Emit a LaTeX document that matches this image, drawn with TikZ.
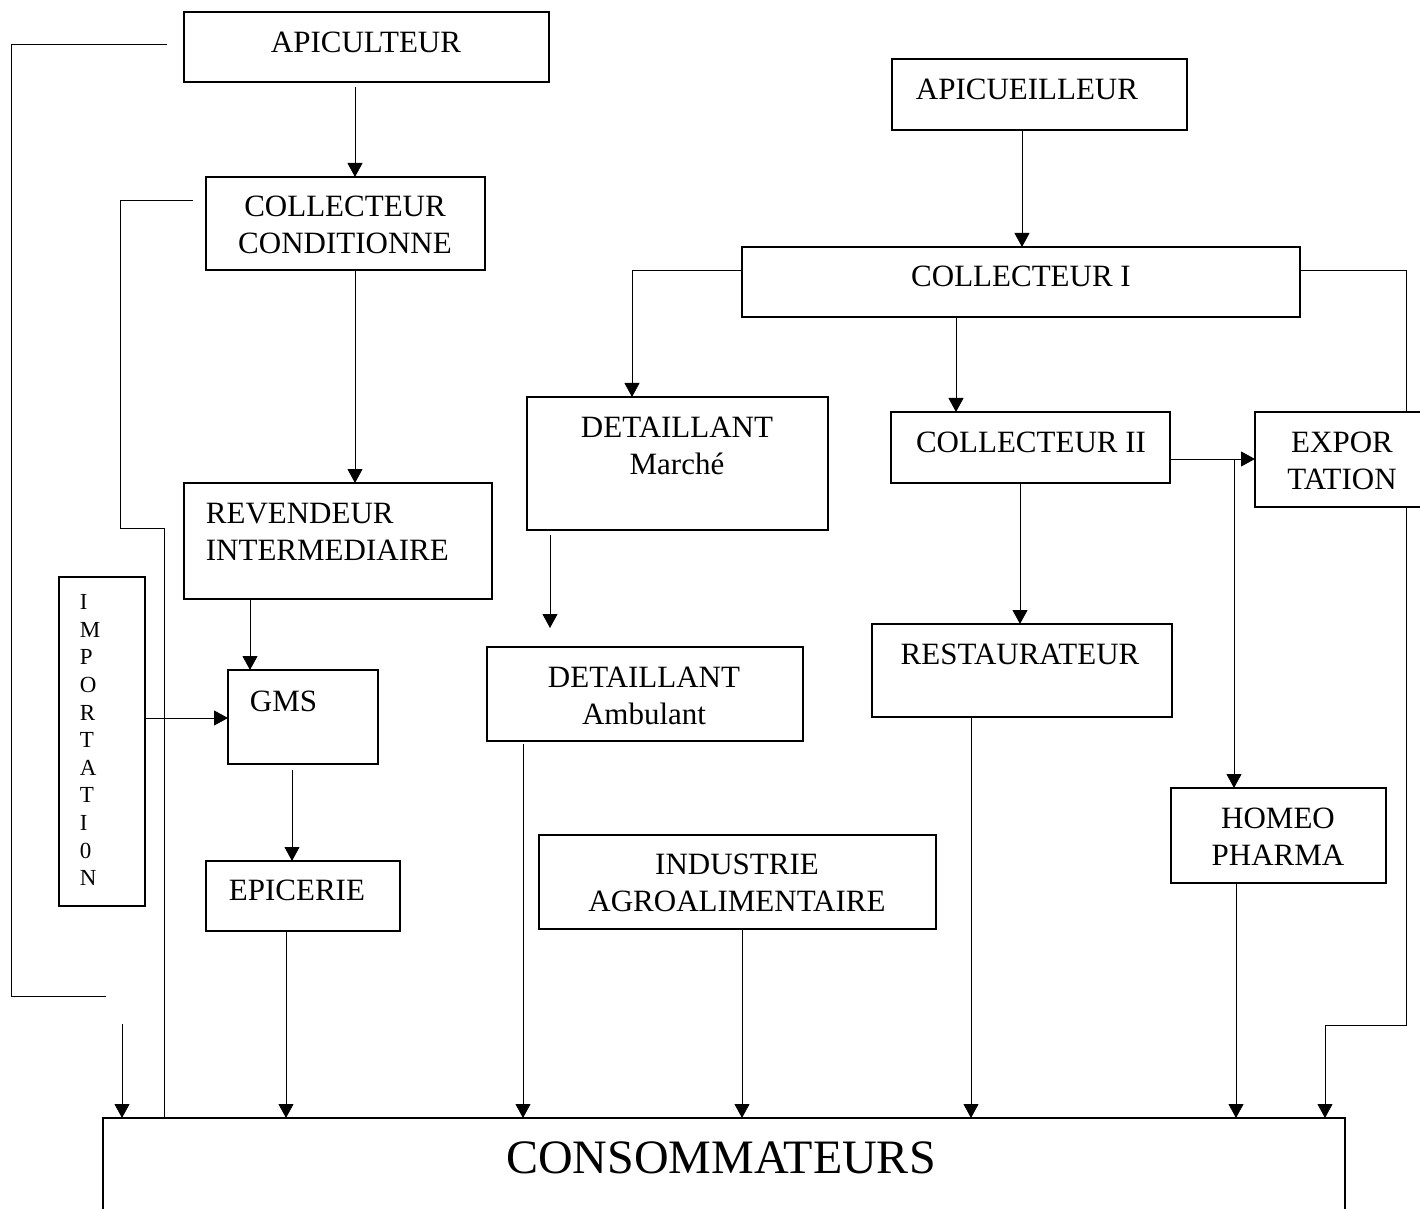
\documentclass[tikz,border=0pt]{standalone}
\usepackage{fontspec}
\setmainfont{Liberation Serif}
\usetikzlibrary{arrows.meta,backgrounds}
\newcommand\bxnode[5]{\node[bx, minimum width={(#4-#2)*0.5pt}, minimum height={(#5-#3)*0.5pt}] (#1) at ({(#2+#4)/2},{(#3+#5)/2}) {};}
\begin{document}
\begin{tikzpicture}[x=0.5pt,y=-0.5pt, line width=0.9pt,
  bx/.style={draw, fill=white, inner sep=0pt, outer sep=0pt},
  lbl/.style={inner sep=0pt, font=\fontsize{15.5pt}{18.5pt}\selectfont},
  arr/.style={-{Triangle[length=7pt,width=7.5pt]}}]
\useasboundingbox (0,0) rectangle (1420,1209);
\clip (0,0) rectangle (1420,1209);

% boxes
\bxnode{apic}{184}{12}{549}{82}
\bxnode{ccond}{206}{177}{485}{270}
\bxnode{rev}{184}{483}{492}{599}
\bxnode{imp}{59}{577}{145}{906}
\bxnode{gms}{228}{670}{378}{764}
\bxnode{epic}{206}{861}{400}{931}
\bxnode{detm}{527}{397}{828}{530}
\bxnode{deta}{487}{647}{803}{741}
\bxnode{indus}{539}{835}{936}{929}
\bxnode{apicu}{892}{59}{1187}{130}
\bxnode{coll1}{742}{247}{1300}{317}
\bxnode{coll2}{891}{412}{1170}{483}
\bxnode{export}{1255}{412}{1430}{507}
\bxnode{resto}{872}{624}{1172}{717}
\bxnode{homeo}{1171}{788}{1386}{883}
\bxnode{cons}{103}{1118}{1345}{1260}

% texts
\node[lbl, anchor=base] (apic-t) at (366,53) {APICULTEUR};
\node[lbl, anchor=north, align=center] (ccond-t) at (345,195.5) {COLLECTEUR\\CONDITIONNE};
\node[lbl, anchor=north west, align=left] (rev-t) at (205,502.5) {REVENDEUR\\INTERMEDIAIRE};
\node[anchor=north west, align=left, inner sep=0pt, font=\fontsize{11.5pt}{13.8pt}\selectfont] (imp-t) at (79,593.8) {I\\M\\P\\O\\R\\T\\A\\T\\I\\0\\N};
\node[lbl, anchor=base west] (gms-t) at (249,711) {GMS};
\node[lbl, anchor=base west] (epic-t) at (228,900) {EPICERIE};
\node[lbl, anchor=north, align=center] (detm-t) at (677,416.5) {DETAILLANT\\Marché};
\node[lbl, anchor=north, align=center] (deta-t) at (644,666.5) {DETAILLANT\\Ambulant};
\node[lbl, anchor=north, align=center] (indus-t) at (737,853.5) {INDUSTRIE\\AGROALIMENTAIRE};
\node[lbl, anchor=base west] (apicu-t) at (915,100) {APICUEILLEUR};
\node[lbl, anchor=base] (coll1-t) at (1021,287) {COLLECTEUR I};
\node[lbl, anchor=base] (coll2-t) at (1031,452) {COLLECTEUR II};
\node[lbl, anchor=north, align=center] (export-t) at (1342,431.5) {EXPOR\\TATION};
\node[lbl, anchor=base] (resto-t) at (1020,664) {RESTAURATEUR};
\node[lbl, anchor=north, align=center] (homeo-t) at (1278,807.5) {HOMEO\\PHARMA};
\node[inner sep=0pt, anchor=base, font=\fontsize{24pt}{28pt}\selectfont] (cons-t) at (721,1173) {CONSOMMATEURS};

% free ends and branch points
\coordinate (apicEnd) at (106,996);
\coordinate (consIn1) at (122,1024);
\coordinate (detTip) at (550,628);
\coordinate (branch) at (1234,459);

\begin{scope}[on background layer]
\draw[arr] (apic.south -| 355,0) ++(0,5) -- (ccond.north -| 355,0);
\draw (apic.west |- 0,44) ++(-17,0) -- (11,44) |- (apicEnd);
\draw[arr] (consIn1) -- (cons.north -| consIn1);
\draw (ccond.west |- 0,200) ++(-13,0) -- (120,200) -- (120,528) -| (cons.north -| 164,0);
\draw[arr] (ccond.south -| 355,0) -- (rev.north -| 355,0);
\draw[arr] (rev.south -| 250,0) -- (gms.north -| 250,0);
\draw[arr] (imp.east |- 0,718) ++(-3,0) -- (gms.west |- 0,718);
\draw[arr] (gms.south -| 292,0) ++(0,6) -- (epic.north -| 292,0);
\draw[arr] (epic.south -| 286,0) -- (cons.north -| 286,0);
\draw[arr] (apicu.south -| 1022,0) -- (coll1.north -| 1022,0);
\draw[arr] (coll1.west |- 0,270) -| (detm.north -| 632,0);
\draw[arr] (coll1.south -| 956,0) -- (coll2.north -| 956,0);
\draw[arr] (coll1.east |- 0,270) -- (1406,270) -- (1406,1025) -| (cons.north -| 1325,0);
\draw[arr] (coll2.east |- branch) -- (export.west |- branch);
\draw[arr] (branch) -- (homeo.north -| branch);
\draw[arr] (coll2.south -| 1020,0) -- (resto.north -| 1020,0);
\draw[arr] (resto.south -| 971,0) -- (cons.north -| 971,0);
\draw[arr] (detm.south -| detTip) ++(0,5) -- (detTip);
\draw[arr] (deta.south -| 523,0) ++(0,3) -- (cons.north -| 523,0);
\draw[arr] (indus.south -| 742,0) -- (cons.north -| 742,0);
\draw[arr] (homeo.south -| 1236,0) -- (cons.north -| 1236,0);
\end{scope}
\end{tikzpicture}
\end{document}
